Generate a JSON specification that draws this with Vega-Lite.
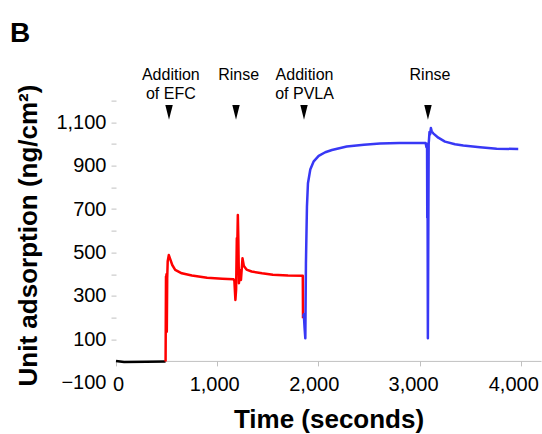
{
  "$schema": "https://vega.github.io/schema/vega-lite/v6.json",
  "width": 425,
  "height": 282,
  "autosize": {"type": "none"},
  "padding": {"left": 116, "top": 100.6, "right": 1, "bottom": 51.4},
  "config": {"font": "Liberation Sans", "view": {"stroke": null}},
  "title": {"text": "B", "anchor": "start", "frame": "group", "fontSize": 28, "fontWeight": "bold", "color": "#000000", "dx": -106, "dy": 3, "baseline": "alphabetic", "offset": 0},
  "datasets": {
    "series": [
      {"s": "base", "t": 0, "v": 0},
      {"s": "base", "t": 80, "v": -5},
      {"s": "base", "t": 300, "v": -4},
      {"s": "base", "t": 490, "v": -3},
      {"s": "efc", "t": 490, "v": -3},
      {"s": "efc", "t": 494, "v": 389},
      {"s": "efc", "t": 497, "v": 330},
      {"s": "efc", "t": 499, "v": 400},
      {"s": "efc", "t": 502, "v": 135},
      {"s": "efc", "t": 506, "v": 380},
      {"s": "efc", "t": 511, "v": 460},
      {"s": "efc", "t": 522, "v": 488},
      {"s": "efc", "t": 535, "v": 470},
      {"s": "efc", "t": 556, "v": 442},
      {"s": "efc", "t": 585, "v": 420},
      {"s": "efc", "t": 650, "v": 404},
      {"s": "efc", "t": 750, "v": 394},
      {"s": "efc", "t": 900, "v": 383},
      {"s": "efc", "t": 1050, "v": 379},
      {"s": "efc", "t": 1162, "v": 377},
      {"s": "efc", "t": 1170, "v": 368},
      {"s": "efc", "t": 1180, "v": 281},
      {"s": "efc", "t": 1187, "v": 330},
      {"s": "efc", "t": 1194, "v": 565},
      {"s": "efc", "t": 1199, "v": 540},
      {"s": "efc", "t": 1204, "v": 673},
      {"s": "efc", "t": 1209, "v": 560},
      {"s": "efc", "t": 1215, "v": 358},
      {"s": "efc", "t": 1224, "v": 419},
      {"s": "efc", "t": 1235, "v": 373},
      {"s": "efc", "t": 1250, "v": 473},
      {"s": "efc", "t": 1264, "v": 437},
      {"s": "efc", "t": 1290, "v": 421},
      {"s": "efc", "t": 1340, "v": 412},
      {"s": "efc", "t": 1443, "v": 404},
      {"s": "efc", "t": 1550, "v": 397},
      {"s": "efc", "t": 1700, "v": 394},
      {"s": "efc", "t": 1846, "v": 393},
      {"s": "efc", "t": 1848, "v": 197},
      {"s": "pvla", "t": 1849, "v": 204},
      {"s": "pvla", "t": 1856, "v": 215},
      {"s": "pvla", "t": 1864, "v": 150},
      {"s": "pvla", "t": 1871, "v": 104},
      {"s": "pvla", "t": 1877, "v": 450},
      {"s": "pvla", "t": 1887, "v": 711},
      {"s": "pvla", "t": 1897, "v": 819},
      {"s": "pvla", "t": 1920, "v": 882},
      {"s": "pvla", "t": 1954, "v": 920},
      {"s": "pvla", "t": 2003, "v": 945},
      {"s": "pvla", "t": 2068, "v": 962},
      {"s": "pvla", "t": 2134, "v": 972},
      {"s": "pvla", "t": 2280, "v": 988},
      {"s": "pvla", "t": 2450, "v": 997},
      {"s": "pvla", "t": 2609, "v": 1002},
      {"s": "pvla", "t": 2800, "v": 1004},
      {"s": "pvla", "t": 3060, "v": 1005},
      {"s": "pvla", "t": 3068, "v": 985},
      {"s": "pvla", "t": 3074, "v": 995},
      {"s": "pvla", "t": 3076, "v": 660},
      {"s": "pvla", "t": 3078, "v": 1000},
      {"s": "pvla", "t": 3082, "v": 104},
      {"s": "pvla", "t": 3090, "v": 1000},
      {"s": "pvla", "t": 3098, "v": 1055},
      {"s": "pvla", "t": 3104, "v": 1045},
      {"s": "pvla", "t": 3112, "v": 1074},
      {"s": "pvla", "t": 3120, "v": 1058},
      {"s": "pvla", "t": 3135, "v": 1049},
      {"s": "pvla", "t": 3185, "v": 1029},
      {"s": "pvla", "t": 3251, "v": 1011},
      {"s": "pvla", "t": 3350, "v": 999},
      {"s": "pvla", "t": 3432, "v": 993},
      {"s": "pvla", "t": 3597, "v": 985},
      {"s": "pvla", "t": 3762, "v": 978},
      {"s": "pvla", "t": 3975, "v": 977}
    ],
    "events": [
      {"label": "Addition\nof EFC", "tm": 524, "tt": 542},
      {"label": "Rinse", "tm": 1186, "tt": 1212},
      {"label": "Addition\nof PVLA", "tm": 1858, "tt": 1863},
      {"label": "Rinse", "tm": 3083, "tt": 3103}
    ]
  },
  "layer": [
    {
      "data": {"name": "series"},
      "mark": {"type": "line", "strokeWidth": 2.5, "strokeJoin": "round"},
      "encoding": {
        "x": {
          "field": "t", "type": "quantitative",
          "scale": {"domain": [0, 4200], "nice": false, "zero": false},
          "axis": {
            "values": [0, 1000, 2000, 3000, 4000],
            "tickCount": 30,
            "labelExpr": "format(datum.value, ',')",
            "grid": false,
            "offset": -21.7,
            "domainColor": "#c0c0c0",
            "tickColor": "#c0c0c0",
            "tickSize": 5,
            "labelFontSize": 20,
            "labelColor": "#000000",
            "labelPadding": 9,
            "labelOverlap": false,
            "labelBound": false,
            "labelFlush": false,
            "labelOffset": {"condition": [
              {"test": "datum.value == 0", "value": 2},
              {"test": "datum.value == 1000", "value": -3},
              {"test": "datum.value == 2000", "value": -4.6},
              {"test": "datum.value == 3000", "value": -6.5},
              {"test": "datum.value == 4000", "value": -7.5}
            ], "value": 0},
            "title": "Time (seconds)",
            "titleFontSize": 26,
            "titleFontWeight": "bold",
            "titleColor": "#000000",
            "titleBaseline": "alphabetic",
            "titleY": 66.6
          }
        },
        "y": {
          "field": "v", "type": "quantitative",
          "scale": {"domain": [-100, 1200], "nice": false, "zero": false},
          "axis": {
            "values": [-100, 100, 200, 300, 400, 500, 600, 700, 800, 900, 1000, 1100, 1200],
            "tickCount": 30,
            "labelExpr": "datum.value == 200 || datum.value == 400 || datum.value == 600 || datum.value == 800 || datum.value == 1000 || datum.value == 1200 ? '' : format(datum.value, ',')",
            "grid": false,
            "domain": false,
            "tickColor": {"condition": {"test": "datum.value < 0", "value": "transparent"}, "value": "#c0c0c0"},
            "tickSize": 5,
            "labelFontSize": 20,
            "labelColor": "#000000",
            "labelPadding": 5,
            "labelOverlap": false,
            "labelBound": false,
            "title": "Unit adsorption (ng/cm²)",
            "titleFontSize": 26,
            "titleFontWeight": "bold",
            "titleColor": "#000000",
            "titleX": -75,
            "titleY": 134.4
          }
        },
        "color": {
          "field": "s", "type": "nominal",
          "scale": {"domain": ["base", "efc", "pvla"], "range": ["#000000", "#ff0000", "#3838f5"]},
          "legend": null
        }
      }
    },
    {
      "mark": {"type": "rule", "color": "#c0c0c0", "strokeWidth": 1},
      "encoding": {
        "x": {"datum": 0, "type": "quantitative"},
        "y": {"datum": 0, "type": "quantitative"},
        "y2": {"datum": 1200}
      }
    },
    {
      "data": {"name": "events"},
      "mark": {"type": "point", "shape": "M-0.5,-1L0.5,-1L0,1Z", "size": 220, "filled": true, "color": "#000000", "opacity": 1},
      "encoding": {
        "x": {"field": "tm", "type": "quantitative"},
        "y": {"datum": 1146, "type": "quantitative"}
      }
    },
    {
      "data": {"name": "events"},
      "mark": {"type": "text", "fontSize": 16, "lineBreak": "\n", "lineHeight": 19, "baseline": "alphabetic", "align": "center", "color": "#000000"},
      "encoding": {
        "x": {"field": "tt", "type": "quantitative"},
        "y": {"datum": 1295, "type": "quantitative"},
        "text": {"field": "label"}
      }
    }
  ]
}
